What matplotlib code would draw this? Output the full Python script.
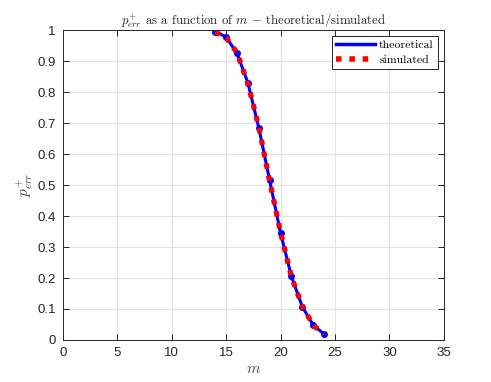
import matplotlib
matplotlib.use("Agg")
import matplotlib.pyplot as plt
from matplotlib.lines import Line2D

plt.rcParams['mathtext.fontset'] = 'cm'
plt.rcParams['font.family'] = ['Liberation Sans', 'DejaVu Sans']

# valeurs
m = [14, 15, 16, 17, 18, 19, 20, 21, 22, 23, 24]
p_theo = [0.995, 0.978, 0.925, 0.83, 0.685, 0.515, 0.345, 0.205, 0.107, 0.048, 0.019]
p_sim = [0.994, 0.976, 0.927, 0.828, 0.688, 0.512, 0.347, 0.203, 0.109, 0.047, 0.020]

serif = ['cmr10', 'DejaVu Serif']
dark = '#262626'
red_style = (0, (1, 1.3))

fig = plt.figure(figsize=(4.91, 3.82), dpi=100)
ax = fig.add_axes([0.128, 0.110, 0.776, 0.811])

ax.plot(m, p_theo, color='blue', linewidth=2.2, marker='o', markersize=4)
ax.plot(m, p_sim, color='red', linewidth=3.8, linestyle=red_style)

ax.set_xlim(0, 35)
ax.set_ylim(0, 1)
ax.set_xticks(range(0, 36, 5))
ax.set_yticks([i / 10 for i in range(11)])
ax.set_yticklabels(['0'] + [f"{i/10:g}" for i in range(1, 10)] + ['1'])
ax.grid(True, color='#e3e3e3', linewidth=0.8)
ax.set_axisbelow(True)

ax.tick_params(direction='in', top=True, right=True, length=4, width=0.7,
               colors=dark, labelsize=9.5, pad=5)
for s in ax.spines.values():
    s.set_color(dark)
    s.set_linewidth(0.7)

ax.set_title(r"$p^{+}_{err}$ as a function of $m$ $-$ theoretical/simulated",
             family=serif, fontsize=9.2, color='#222222', pad=4)
ax.set_xlabel(r"$m$", fontsize=11, color='#444444', labelpad=2)
ax.set_ylabel(r"$p^{+}_{err}$", fontsize=11, color='#444444', labelpad=2)

handles = [Line2D([], [], color='blue', linewidth=2.5),
           Line2D([], [], color='red', linewidth=4, linestyle=(0, (1, 1.4)))]
leg = ax.legend(handles, ['theoretical', 'simulated'], loc='upper right',
                prop={'family': serif, 'size': 8.5},
                fancybox=False, framealpha=1, edgecolor=dark,
                handlelength=3.3, borderpad=0.35, labelspacing=0.35,
                handletextpad=0.35, borderaxespad=0.5)
leg.get_frame().set_linewidth(0.7)

fig.savefig('out.png', dpi=100)
